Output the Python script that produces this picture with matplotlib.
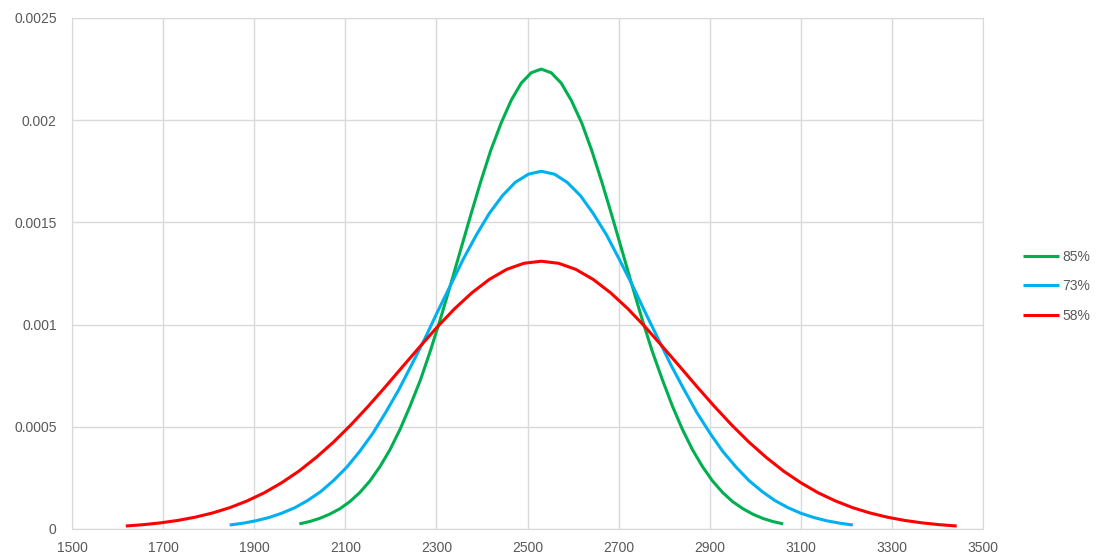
import matplotlib.pyplot as plt

# values (x, density)
x_85 = [1999, 2021, 2043, 2065, 2088, 2110, 2132, 2154, 2176, 2198, 2220, 2242, 2265,
        2287, 2309, 2331, 2353, 2375, 2397, 2419, 2442, 2464, 2486, 2508, 2530,
        2552, 2574, 2596, 2619, 2641, 2663, 2685, 2707, 2729, 2751, 2773, 2796,
        2818, 2840, 2862, 2884, 2906, 2928, 2950, 2973, 2995, 3017, 3039, 3061]
y_85 = [0.0000250, 0.0000361, 0.0000513, 0.0000718, 0.0000989, 0.000134, 0.000179,
        0.000235, 0.000305, 0.000388, 0.000487, 0.000601, 0.000730, 0.000874,
        0.001030, 0.001195, 0.001365, 0.001534, 0.001698, 0.001851, 0.001986,
        0.002097, 0.002181, 0.002232, 0.002250,
        0.002232, 0.002181, 0.002097, 0.001986, 0.001851, 0.001698, 0.001534,
        0.001365, 0.001195, 0.001030, 0.000874, 0.000730, 0.000601, 0.000487,
        0.000388, 0.000305, 0.000235, 0.000179, 0.000134, 0.0000989, 0.0000718,
        0.0000513, 0.0000361, 0.0000250]

x_73 = [1846, 1875, 1903, 1932, 1960, 1989, 2017, 2046, 2074, 2103, 2131, 2160, 2188,
        2217, 2245, 2274, 2302, 2331, 2359, 2388, 2416, 2445, 2473, 2502, 2530,
        2559, 2587, 2616, 2644, 2673, 2701, 2730, 2758, 2787, 2815, 2844, 2872,
        2901, 2929, 2958, 2986, 3015, 3043, 3072, 3100, 3129, 3157, 3186, 3214]
y_73 = [0.0000194, 0.0000281, 0.0000399, 0.0000558, 0.0000769, 0.000104, 0.000139,
        0.000183, 0.000237, 0.000302, 0.000378, 0.000467, 0.000568, 0.000680,
        0.000801, 0.000929, 0.001061, 0.001193, 0.001321, 0.001440, 0.001544,
        0.001631, 0.001696, 0.001736, 0.001750,
        0.001736, 0.001696, 0.001631, 0.001544, 0.001440, 0.001321, 0.001193,
        0.001061, 0.000929, 0.000801, 0.000680, 0.000568, 0.000467, 0.000378,
        0.000302, 0.000237, 0.000183, 0.000139, 0.000104, 0.0000769, 0.0000558,
        0.0000399, 0.0000281, 0.0000194]

x_58 = [1618, 1656, 1694, 1732, 1770, 1808, 1846, 1884, 1922, 1960, 1998, 2036, 2074,
        2112, 2150, 2188, 2226, 2264, 2302, 2340, 2378, 2416, 2454, 2492, 2530,
        2568, 2606, 2644, 2682, 2720, 2758, 2796, 2834, 2872, 2910, 2948, 2986,
        3024, 3062, 3100, 3138, 3176, 3214, 3252, 3290, 3328, 3366, 3404, 3442]
y_58 = [0.0000146, 0.0000210, 0.0000299, 0.0000418, 0.0000576, 0.0000781, 0.000104,
        0.000137, 0.000177, 0.000226, 0.000283, 0.000350, 0.000425, 0.000509,
        0.000600, 0.000696, 0.000795, 0.000893, 0.000989, 0.001078, 0.001156,
        0.001221, 0.001270, 0.001300, 0.001310,
        0.001300, 0.001270, 0.001221, 0.001156, 0.001078, 0.000989, 0.000893,
        0.000795, 0.000696, 0.000600, 0.000509, 0.000425, 0.000350, 0.000283,
        0.000226, 0.000177, 0.000137, 0.000104, 0.0000781, 0.0000576, 0.0000418,
        0.0000299, 0.0000210, 0.0000146]

x_ticks = [1500, 1700, 1900, 2100, 2300, 2500, 2700, 2900, 3100, 3300, 3500]
y_ticks = [0, 0.0005, 0.001, 0.0015, 0.002, 0.0025]
y_labels = ["0", "0.0005", "0.001", "0.0015", "0.002", "0.0025"]

plt.rcParams['font.family'] = ['Liberation Sans', 'DejaVu Sans']

fig = plt.figure(figsize=(10.96, 5.57), dpi=100)
ax = fig.add_axes([0.0657, 0.0503, 0.8313, 0.9174])

ax.plot(x_85, y_85, color='#00b050', lw=2.2, label='85%', solid_capstyle='butt')
ax.plot(x_73, y_73, color='#00b0f0', lw=2.2, label='73%', solid_capstyle='butt')
ax.plot(x_58, y_58, color='#ff0000', lw=2.2, label='58%', solid_capstyle='butt')

ax.set_xlim(1500, 3500)
ax.set_ylim(0, 0.0025)
ax.set_xticks(x_ticks)
ax.set_yticks(y_ticks)
ax.set_yticklabels(y_labels)
ax.grid(color='#d9d9d9', lw=1)
ax.set_axisbelow(True)
for s in ax.spines.values():
    s.set_color('#d9d9d9')
ax.tick_params(length=0, labelsize=10, labelcolor='#595959')
ax.tick_params(axis='y', pad=11)
ax.tick_params(axis='x', pad=9)

ax.legend(loc='center left', bbox_to_anchor=(1.03, 0.475), frameon=False,
          fontsize=10, labelcolor='#595959', handlelength=2.6,
          handletextpad=0.25, labelspacing=1.1)

plt.savefig('out.png')
